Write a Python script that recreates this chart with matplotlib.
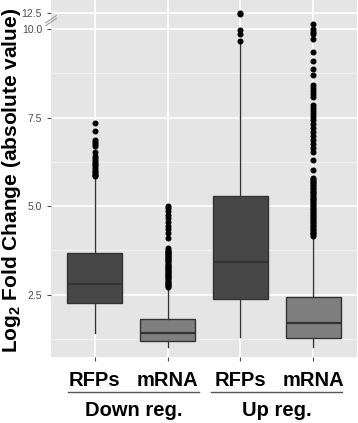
import matplotlib
matplotlib.use("Agg")
import matplotlib.pyplot as plt
import matplotlib.transforms as mtransforms

plt.rcParams['font.family'] = ['Liberation Sans', 'DejaVu Sans']
plt.rcParams['mathtext.fontset'] = 'custom'
plt.rcParams['mathtext.rm'] = 'Liberation Sans:bold'
plt.rcParams['mathtext.bf'] = 'Liberation Sans:bold'
plt.rcParams['mathtext.default'] = 'bf'

# ---- data ----
labels = ['RFPs', 'mRNA', 'RFPs', 'mRNA']
groups = ['Down reg.', 'Up reg.']
q1 = [2.26, 1.19, 2.38, 1.29]
med = [2.81, 1.43, 3.42, 1.71]
q3 = [3.69, 1.81, 5.29, 2.43]
whislo = [1.41, 1.02, 1.31, 1.02]
whishi = [5.82, 2.69, 9.64, 4.14]

fliers_down_rfp = [5.85, 5.88, 5.92, 5.96, 6.00, 6.05, 6.10, 6.15, 6.20, 6.25,
                   6.30, 6.36, 6.42, 6.52, 6.70, 6.76, 6.82, 6.88, 7.12, 7.36]
fliers_down_mrna = [2.72, 2.75, 2.78, 2.81, 2.84, 2.87, 2.90, 2.93, 2.96, 2.99,
                    3.02, 3.05, 3.08, 3.11, 3.14, 3.17, 3.20, 3.23, 3.26, 3.29,
                    3.32, 3.35, 3.38, 3.41, 3.44, 3.47, 3.50, 3.53, 3.56, 3.59,
                    3.62, 3.65, 3.68, 3.71, 3.74, 3.77, 3.81, 4.09, 4.23, 4.35,
                    4.44, 4.56, 4.66, 4.75, 4.87, 4.94, 5.00]
fliers_up_rfp = [9.66, 9.86, 9.98, 12.38, 12.43]
fliers_up_mrna = [4.16, 4.20, 4.24, 4.28, 4.32, 4.36, 4.40, 4.44, 4.48, 4.52,
                  4.56, 4.60, 4.64, 4.68, 4.72, 4.76, 4.80, 4.84, 4.88, 4.92,
                  4.96, 5.00, 5.04, 5.08, 5.12, 5.16, 5.20, 5.24, 5.28, 5.32,
                  5.36, 5.40, 5.44, 5.48, 5.52, 5.56, 5.60, 5.64, 5.68, 5.72,
                  5.76, 5.80, 6.02, 6.30, 6.53, 6.64, 6.75, 6.87, 6.98, 7.09,
                  7.21, 7.32, 7.43, 7.51, 7.60, 7.68, 7.77, 7.85, 8.08, 8.17,
                  8.25, 8.33, 8.42, 8.69, 8.87, 9.09, 9.35, 9.73, 9.85, 9.92,
                  10.0, 10.7]
fliers = [fliers_down_rfp, fliers_down_mrna, fliers_up_rfp, fliers_up_mrna]

yticks = [2.5, 5.0, 7.5, 10.0, 12.5]
ytick_labels = ['2.5', '5.0', '7.5', '10.0', '12.5']

# broken axis: values above 10 are squeezed
BREAK = 10.0
SQUEEZE = 0.184


def squash(v):
    return v if v <= BREAK else BREAK + (v - BREAK) * SQUEEZE


fills = ['#474747', '#7f7f7f', '#474747', '#7f7f7f']

stats = []
for i in range(4):
    stats.append(dict(med=med[i], q1=q1[i], q3=q3[i],
                      whislo=whislo[i], whishi=squash(whishi[i]),
                      fliers=[squash(v) for v in fliers[i]]))

fig = plt.figure(figsize=(3.58, 4.23), dpi=100)
ax = fig.add_axes([51 / 358, 1 - 356.7 / 423, 306 / 358, 356.7 / 423])
ax.set_facecolor('#e5e5e5')

# grid
for y in [1.25, 3.75, 6.25, 8.75]:
    ax.axhline(y, color='#f2f2f2', lw=0.7, zorder=0)
for t in yticks:
    ax.axhline(squash(t), color='white', lw=1.2, zorder=0)
for x in range(1, 5):
    ax.axvline(x, color='white', lw=1.2, zorder=0)

bp = ax.bxp(stats, positions=[1, 2, 3, 4], widths=0.75, patch_artist=True,
            showcaps=False,
            boxprops=dict(edgecolor='#333333', linewidth=1.0),
            medianprops=dict(color='#333333', linewidth=1.6),
            whiskerprops=dict(color='#333333', linewidth=1.0),
            flierprops=dict(marker='o', markerfacecolor='black',
                            markeredgecolor='black', markersize=3.3))
for patch, c in zip(bp['boxes'], fills):
    patch.set_facecolor(c)

ax.set_xlim(0.4, 4.6)
ax.set_ylim(0.75, 10.82)
ax.set_yticks([squash(t) for t in yticks])
ax.set_yticklabels(ytick_labels, fontsize=7.5, color='#4d4d4d')
ax.set_xticks([1, 2, 3, 4])
ax.set_xticklabels(labels, fontsize=14.5, fontweight='bold', color='black')
ax.tick_params(axis='both', length=3, color='#4d4d4d', width=0.8)
ax.tick_params(axis='x', pad=7)
for s in ax.spines.values():
    s.set_visible(False)

# axis break mark
for dy in (0.0, 0.008):
    ax.plot([-0.017, 0.017], [0.928 + dy, 0.948 + dy], transform=ax.transAxes,
            color='#999999', lw=0.8, clip_on=False)

# group labels with lines
trans = mtransforms.blended_transform_factory(ax.transData, ax.transAxes)
for center, name in zip([1.53, 3.5], groups):
    ax.plot([center - 0.9, center + 0.9], [-0.099, -0.099], transform=trans,
            color='#555555', lw=1.0, clip_on=False)
    ax.text(center, -0.15, name, transform=trans, ha='center', va='center',
            fontsize=14.5, fontweight='bold')

fig.text(12 / 358, 1 - 180 / 423, 'Log$_2$ Fold Change (absolute value)',
         rotation=90, ha='center', va='center', fontsize=15, fontweight='bold')

fig.savefig('out.png', dpi=100)
